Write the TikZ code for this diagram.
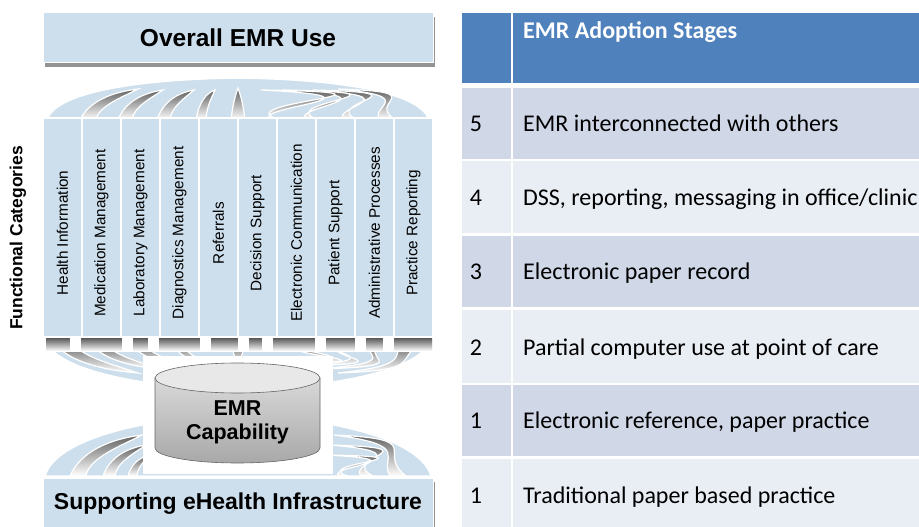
\documentclass[tikz,border=0pt]{standalone}
\usepackage{fontspec}
\setmainfont{Liberation Sans}
\newfontfamily\calfont{Carlito}
\usetikzlibrary{shadows,calc}
\definecolor{lb}{HTML}{CDDFEC}
\definecolor{hdr}{HTML}{4F81BD}
\definecolor{rowd}{HTML}{D0D8E8}
\definecolor{rowl}{HTML}{E9EDF4}
\newcommand\myblade[5]{%
  \pgfmathsetmacro\hh{#3-#5}%
  \pgfmathsetmacro\dxa{#4-#1}%
  \pgfmathsetmacro\dxb{#4-#2}%
  \path[bladestyle] (#1,#3) .. controls ({#1+0.15*\dxa},{#3-0.6*\hh}) and ({#4-0.45*\dxa},{#5+0.1*\hh}) .. (#4,#5) .. controls ({#4-0.35*\dxb},{#5+0.25*\hh}) and ({#2+0.05*\dxb},{#3-0.45*\hh}) .. (#2,#3) -- cycle;}
\begin{document}
\begin{tikzpicture}[x=1pt,y=-1pt,
  bladestyle/.style={draw=white, line width=1.2pt, top color=black!62, middle color=black!25, bottom color=white},
  fan/.style={fill=lb, draw=white, line width=1.5pt},
  colbox/.style={draw=white, line width=1.5pt, fill=lb, minimum width=39pt, minimum height=219pt, inner sep=0pt},
  bigbox/.style={fill=lb, draw=white, line width=1pt, minimum width=390pt, minimum height=50pt, inner sep=0pt, font=\bfseries\fontsize{24.5}{27}\selectfont, drop shadow={shadow xshift=2pt, shadow yshift=-4pt, fill=black!70, opacity=0.6}},
  collab/.style={rotate=90, font=\fontsize{15.3}{17}\selectfont, inner sep=0pt},
  cyltxt/.style={font=\bfseries\fontsize{21.5}{24}\selectfont, inner sep=0pt},
  tnum/.style={anchor=base, inner sep=0pt, font=\calfont\fontsize{24}{26}\selectfont},
  ttxt/.style={anchor=base west, inner sep=0pt, font=\calfont\fontsize{24}{26}\selectfont}]
\useasboundingbox (0,0) rectangle (919,527);
\fill[white] (0,0) rectangle (919,527);

% top dome
\path[fan] (47,120) .. controls (56,90) and (150,79) .. (238,78) .. controls (326,79) and (420,90) .. (429,120) -- cycle;
\foreach \a/\b/\tx/\ty in {80/96/138/89, 118/132/163/90, 157/170/194/90, 196/206/215/90}{
  \myblade{\a}{\b}{120}{\tx}{\ty}
  \myblade{476-\a}{476-\b}{120}{476-\tx}{\ty}
}
\path[bladestyle] (231,120) .. controls (233,102) and (236,94) .. (238,88) .. controls (240,94) and (243,102) .. (245,120) -- cycle;

% under-column fan
\path[fan] (46,342) .. controls (60,372) and (150,388) .. (238,390) .. controls (326,388) and (416,372) .. (430,342) -- cycle;
\foreach \a/\b/\tx/\ty in {54/74/138/373, 90/106/160/369, 130/144/185/366, 172/182/207/364}{
  \myblade{\a}{\b}{342}{\tx}{\ty}
  \myblade{476-\a}{476-\b}{342}{476-\tx}{\ty}
}
\path[bladestyle] (231,342) .. controls (233,354) and (236,360) .. (238,364) .. controls (240,360) and (243,354) .. (245,342) -- cycle;

% bottom dome
\path[fan] (45,476) .. controls (56,438) and (150,417) .. (238,415) .. controls (326,417) and (420,438) .. (431,476) -- cycle;
\foreach \a/\b/\tx/\ty in {70/86/142/435, 103/115/146/445, 128/137/150/455}{
  \myblade{\a}{\b}{476}{\tx}{\ty}
  \myblade{476-\a}{476-\b}{476}{476-\tx}{\ty}
}

% white area behind cylinder
\fill[white] (143,356) rectangle (333,474);

% shadow under the columns
\shade[top color=black!75, bottom color=white] (46,336) rectangle (432,351);
\foreach \g in {70,122,148,200,238,262,315,355,383}{
  \fill[white] (\g,337) rectangle ({\g+11},352);
}

% columns
\foreach \t [count=\i from 0] in {Health Information, Medication Management, Laboratory Management, Diagnostics Management, Referrals, Decision Support, Electronic Communication, Patient Support, Administrative Processes, Practice Reporting}{
  \node[colbox] (col\i) at ({62.5+39*\i},227.5) {};
  \node[collab] (lab\i) at ({62.5+39*\i},233) {\t};
}
\node[rotate=90, inner sep=0pt, font=\bfseries\fontsize{17.5}{19}\selectfont] (fc) at (18,238) {Functional Categories};

% big boxes
\node[bigbox] (top) at (238,38) {Overall EMR Use};
\node[bigbox, minimum height=52pt, font=\bfseries\fontsize{23}{26}\selectfont] (bot) at (238,504) {Supporting eHealth Infrastructure};

% cylinder
\path[top color=gray!30, bottom color=gray!68, draw=black!60, line width=0.6pt]
  (155,378) -- (155,448) .. controls (155,456.3) and (191.9,463) .. (237.5,463)
  .. controls (283.1,463) and (320,456.3) .. (320,448) -- (320,378) -- cycle;
\path[fill=gray!18, draw=black!60, line width=0.6pt] (237.5,378) ellipse [x radius=82.5, y radius=15];
\node[cyltxt] (emr) at (237.5,408) {EMR};
\node[cyltxt] (cap) at (237.5,434) {Capability};

% table
\fill[hdr] (462,13) rectangle (511,83);
\fill[hdr] (513,13) rectangle (919,83);
\node[ttxt, text=white, font=\calfont\bfseries\fontsize{24}{26}\selectfont] (hd) at (523,39) {EMR Adoption Stages};

\fill[rowd] (462,88) rectangle (511,159);  \fill[rowd] (513,88) rectangle (919,159);
\fill[rowl] (462,161) rectangle (511,233); \fill[rowl] (513,161) rectangle (919,233);
\fill[rowd] (462,236) rectangle (511,307); \fill[rowd] (513,236) rectangle (919,307);
\fill[rowl] (462,310) rectangle (511,383); \fill[rowl] (513,310) rectangle (919,383);
\fill[rowd] (462,385) rectangle (511,456); \fill[rowd] (513,385) rectangle (919,456);
\fill[rowl] (462,459) rectangle (511,527); \fill[rowl] (513,459) rectangle (919,527);

\node[tnum] (n5) at (476,131.5) {5};
\node[ttxt] (t5) at (523,131.5) {EMR interconnected with others};
\node[tnum] (n4) at (476,205) {4};
\node[ttxt] (t4) at (523,205) {DSS, reporting, messaging in office/clinic};
\node[tnum] (n3) at (476,279.5) {3};
\node[ttxt] (t3) at (523,279.5) {Electronic paper record};
\node[tnum] (n2) at (476,355) {2};
\node[ttxt] (t2) at (523,355) {Partial computer use at point of care};
\node[tnum] (n1) at (476,428.5) {1};
\node[ttxt] (t1) at (523,428.5) {Electronic reference, paper practice};
\node[tnum] (n0) at (476,503) {1};
\node[ttxt] (t0) at (523,503) {Traditional paper based practice};
\end{tikzpicture}
\end{document}
